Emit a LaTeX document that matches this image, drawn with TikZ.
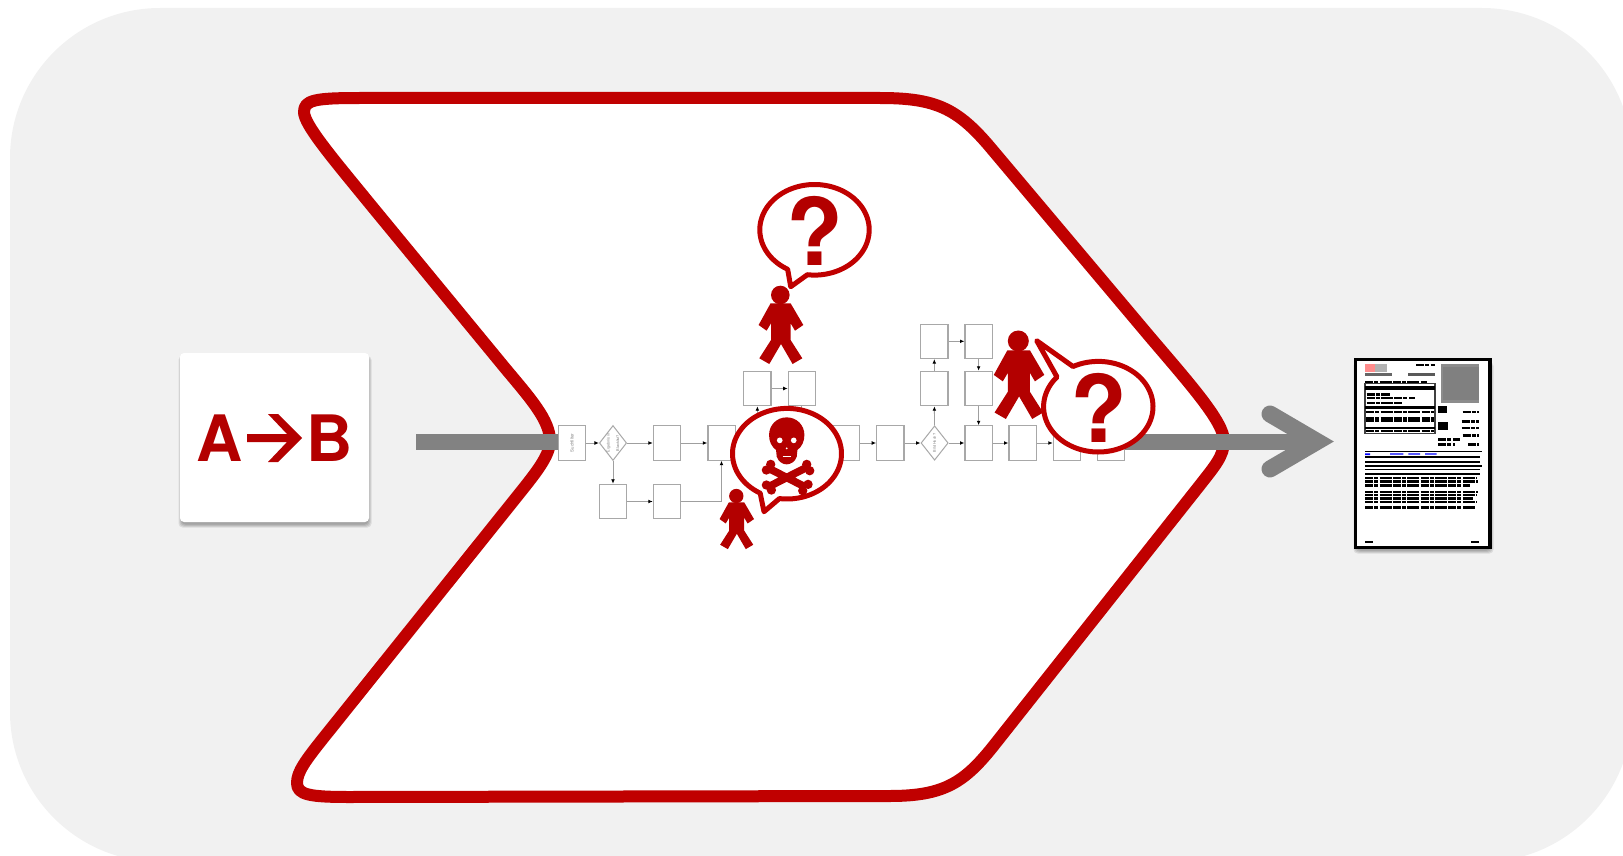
\documentclass[tikz,border=0pt]{standalone}
\usepackage{fontspec}
\setmainfont{TeX Gyre Heros}
\usetikzlibrary{arrows.meta,shapes.geometric}
\definecolor{bgc}{HTML}{F1F1F1}
\definecolor{redline}{HTML}{C00000}
\definecolor{redfill}{HTML}{B30000}
\definecolor{arrowgray}{HTML}{828282}
\definecolor{boxline}{HTML}{A8A8A8}
\tikzset{
  flowbox/.style={draw=boxline,fill=white,line width=.6pt,minimum width=13.6pt,minimum height=17.2pt,inner sep=0pt,font=\fontsize{2.2}{2.6}\selectfont,text=gray},
  flowdia/.style={diamond,aspect=.78,draw=boxline,fill=white,line width=.5pt,minimum width=13.6pt,minimum height=17.2pt,inner sep=0pt,font=\fontsize{1.9}{2.2}\selectfont,text=gray},
  conn/.style={draw=gray!75,line width=.45pt,-{Latex[length=2.2pt,width=1.9pt,color=black]}},
  connplain/.style={draw=gray!75,line width=.45pt},
  bubblestyle/.style={draw=redline,fill=white,line width=2.5pt,line join=round},
  bigq/.style={inner sep=0pt,text=redfill,font=\fontsize{46.5}{50}\selectfont\bfseries},
  letter/.style={inner sep=0pt,text=redfill,font=\fontsize{32}{36}\selectfont\bfseries},
  grayshaft/.style={draw=arrowgray,line width=8pt},
  person/.pic={
    \fill[redfill] (0,0) circle[radius=9.3];
    \fill[redfill] (-9.7,8.3)--(10.3,8.3)--(23,30)--(14.7,35.7)--(10.3,28.3)--(10.3,45)--(22,63.3)--(12.3,69)--(0.7,49)--(-11,69)--(-21,63.3)--(-9.3,45)--(-9.3,28.3)--(-13.7,35.7)--(-21.7,30)--cycle;
  }
}
\newcommand{\speech}[8]{%
  \draw[bubblestyle] plot[domain=#5:#6,samples=120,smooth] ({#1+#3*cos(\x)},{#2+#4*sin(\x)}) -- (#7,#8) -- cycle;}
\newcommand{\softshadow}[4]{%
  \foreach \d in {0.5,1.5,2.5,3.5}{\fill[black,opacity=.09,rounded corners=2pt] (#1+2-\d,#2+3) rectangle (#3-1+\d,#4+2+\d);}}
\newcommand{\docbar}[4]{\fill[black] (#1,#2) rectangle (#3,#4);}
\newcommand{\docline}[3]{\draw[black,line width=1.2pt,dash pattern=on 4pt off .5pt on 2pt off .8pt on 6pt off .6pt] (#1,#2) -- (#3,#2);}
\begin{document}
\begin{tikzpicture}[x=.5pt,y=-.5pt]
\path[use as bounding box,clip] (0,0) rectangle (1623,856);
% background panel
\fill[bgc,rounded corners=75pt] (10,8) rectangle (1632,862);
% chevron
\draw[draw=redline,fill=white,line width=6pt,line join=round]
  (360,98) -- (880,98) .. controls (935,98) and (957,108) .. (990,147)
  -- (1150,337) .. controls (1190,384) and (1224,422) .. (1224,441)
  .. controls (1224,456) and (1214,467) .. (1200,485) -- (995,744)
  .. controls (965,782) and (945,796) .. (890,796) -- (350,797)
  .. controls (310,797) and (297,795) .. (297,783) .. controls (297,772) and (305,761) .. (325,736)
  -- (515,499) .. controls (535,474) and (550,456) .. (550,441)
  .. controls (550,420) and (530,398) .. (505,368) -- (370,204)
  .. controls (335,161) and (304,125) .. (304,112) .. controls (304,100) and (315,98) .. (360,98) -- cycle;
% A -> B card
\softshadow{180}{353}{369}{522}
\fill[white,rounded corners=2pt] (180,353) rectangle (369,522);
\node[letter] (letA) at (220,438) {A};
\node[letter] (letB) at (329.5,438) {B};
\fill[redfill] (247,434) -- (287,434) -- (268,414) -- (278,414) -- (302,438) -- (278,462) -- (268,462) -- (287,442) -- (247,442) -- cycle;
% flowchart nodes
\node[flowbox] (sf) at (572,443) {\rotatebox{90}{Suchfilter}};
\node[flowdia] (d1) at (613,443) {\rotatebox{90}{\shortstack{Ergebnis in\\Blacklist?}}};
\node[flowbox] (b3) at (667,443) {};
\node[flowbox] (b4) at (721.5,443) {};
\node[flowbox] (ba) at (613,501.5) {};
\node[flowbox] (bb) at (667,501.5) {};
\node[flowbox] (u1) at (757.4,388.5) {};
\node[flowbox] (u2) at (801.8,388.5) {};
\coordinate (h4) at (757.4,443);
\coordinate (h5) at (801.8,443);
\node[flowbox] (b5) at (845.6,443) {};
\node[flowbox] (b6) at (890.3,443) {};
\node[flowdia] (d2) at (934.6,443) {\rotatebox{90}{Bild Hoch?}};
\node[flowbox] (c1) at (978.6,443) {};
\node[flowbox] (c2) at (1022.6,443) {};
\node[flowbox] (c3) at (1067,443) {};
\node[flowbox] (c4) at (1111,443) {};
\node[flowbox] (v1) at (934.3,388.5) {};
\node[flowbox] (v2) at (978.6,388.5) {};
\node[flowbox] (w1) at (934.3,341.3) {};
\node[flowbox] (w2) at (978.6,341.3) {};
% flowchart connectors
\draw[conn] (sf) -- (d1);
\draw[conn] (d1) -- (b3);
\draw[conn] (b3) -- (b4);
\draw[conn] (d1) -- (ba);
\draw[conn] (ba) -- (bb);
\draw[conn] (bb.east) -| (b4.south);
\draw[connplain] (b4) -- (h4);
\draw[conn] (h4) -- (u1.south);
\draw[conn] (u1) -- (u2);
\draw[connplain] (u2.south) -- (h5);
\draw[connplain] (h5) -- (b5.west);
\draw[conn] (b5) -- (b6);
\draw[conn] (b6) -- (d2);
\draw[conn] (d2) -- (c1);
\draw[conn] (c1) -- (c2);
\draw[conn] (c2) -- (c3);
\draw[conn] (c3) -- (c4);
\draw[conn] (d2) -- (v1);
\draw[conn] (v1) -- (w1);
\draw[conn] (w1) -- (w2);
\draw[conn] (w2) -- (v2);
\draw[conn] (v2) -- (c1);
% gray arrow
\coordinate (gstart) at (416,441.5);
\coordinate (gtip) at (1317,441.5);
\coordinate (gup) at (1270,414);
\coordinate (gdn) at (1270,469);
\draw[grayshaft] (gstart) -- (sf.west |- gstart);
\draw[grayshaft] (c4.east |- gtip) -- (gtip);
\draw[draw=arrowgray,line width=8.5pt,line cap=round,miter limit=10] (gup) -- (gtip) -- (gdn);
% top person with question
\pic at (780.3,295) {person};
\speech{814.5}{229.8}{54.7}{45.3}{119.4}{457.5}{790.7}{286.7}
\node[bigq] (q1) at (815,230.7) {?};
% right person with question
\pic[scale=1.13] at (1018.3,341) {person};
\speech{1098.3}{406.7}{54.7}{45.3}{242.5}{581}{1036.7}{340.7}
\node[bigq] (q2) at (1099,407.7) {?};
% skull bubble
\speech{787}{453.7}{54.5}{45.3}{119.5}{458}{764}{511.7}
\begin{scope}[shift={(540,300)},x=.1667pt,y=-.1667pt]
  \draw[redfill,line width=3.8pt] (682,503) -- (798,562) (798,503) -- (682,562);
  \foreach \px/\py in {679/510,692/493,800/493,809/512,679/555,694/570,788/572,804/553}{\fill[redfill] (\px,\py) circle[radius=14];}
  \fill[redfill] (740,352) .. controls (770,352) and (793,375) .. (793,405) .. controls (793,425) and (785,440) .. (772,450) -- (770,470) .. controls (765,485) and (752,493) .. (740,493) .. controls (728,493) and (715,485) .. (710,470) -- (708,450) .. controls (695,440) and (687,425) .. (687,405) .. controls (687,375) and (710,352) .. (740,352) -- cycle;
  \fill[white] (719,421) circle[radius=8.5] (761,421) circle[radius=8.5] (740,445) circle[radius=3];
  \draw[white,line width=.25pt] (728,468) -- (752,468);
\end{scope}
\pic[scale=.77] at (736.3,496) {person};
% document thumbnail
\softshadow{1355}{359}{1491}{548}
\begin{scope}[shift={(1340,350)},x=.1667pt,y=-.1667pt]
  \draw[black,fill=white,line width=1.6pt] (47,29) rectangle (450,592);
  \fill[red!45!white] (75,42) rectangle (104,67);
  \fill[gray!60] (105,42) rectangle (142,67);
  \fill[gray!80!black] (75,70) rectangle (155,78);
  \docline{228}{45}{285}
  \fill[gray!70!black] (205,70) rectangle (285,78);
  \fill[gray!90] (303,42) rectangle (418,160);
  \fill[gray] (310,52) rectangle (416,150);
  \draw[black!75,line width=.6pt] (75,100) rectangle (285,250) (285,110) -- (285,165);
  \docline{75}{96}{260}
  \docbar{75}{108}{285}{120}
  \docline{80}{133}{150}
  \docline{80}{144}{225}
  \docline{80}{159}{190}
  \docbar{75}{168}{285}{176}
  \docline{78}{186}{282}
  \docline{78}{205}{282}
  \docline{78}{212}{282}
  \docbar{75}{230}{285}{238}
  \docline{78}{243}{282}
  \docbar{295}{168}{320}{190}
  \docbar{295}{215}{325}{240}
  \docline{368}{186}{418}
  \docline{365}{215}{418}
  \docline{365}{234}{418}
  \docline{368}{257}{418}
  \docline{295}{268}{360}
  \docline{295}{284}{345}
  \docline{385}{284}{418}
  \docbar{75}{303}{425}{307}
  \fill[blue] (75,310) rectangle (90,315) (150,310) rectangle (190,314) (205,310) rectangle (240,314) (255,310) rectangle (290,314);
  \docbar{75}{318}{420}{323}
  \docbar{75}{333}{420}{338}
  \docbar{75}{345}{425}{350}
  \docbar{75}{356}{420}{360}
  \docbar{75}{370}{420}{374}
  \foreach \ly/\lx in {384/410,395/415,407/390,425/415,434/410,445/400,456/410,472/405}{\docline{75}{\ly}{\lx}}
  \docbar{75}{572}{98}{578}
  \docbar{392}{572}{418}{578}
\end{scope}
\end{tikzpicture}
\end{document}
